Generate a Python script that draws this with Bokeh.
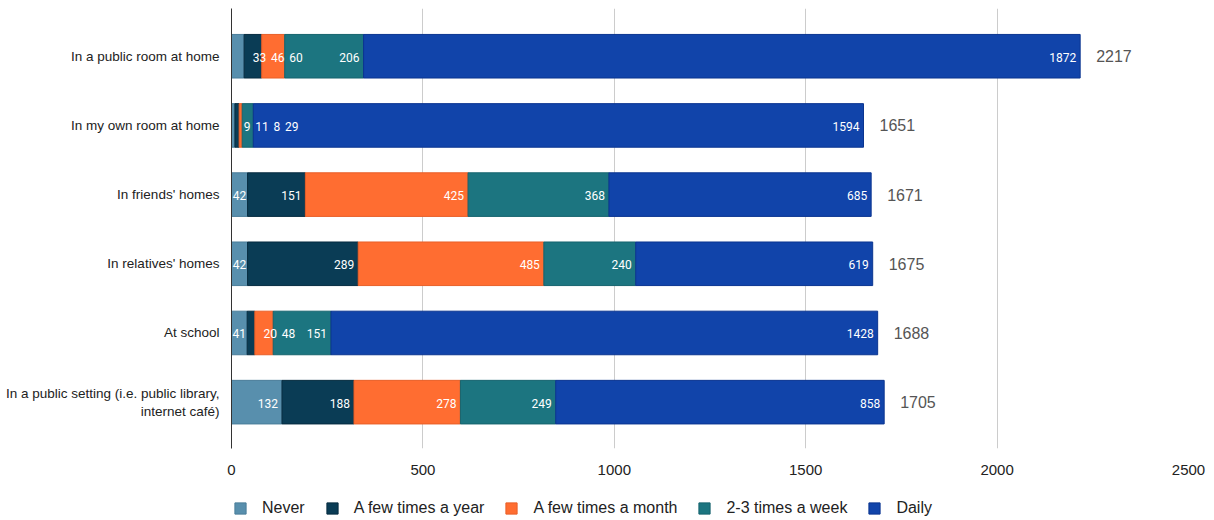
from bokeh.plotting import figure
from bokeh.layouts import column
from bokeh.models import ColumnDataSource, Range1d, FixedTicker, Legend, LegendItem
from bokeh.core.properties import value
from bokeh.embed import file_html
from bokeh.resources import INLINE

categories = [
    "In a public room at home",
    "In my own room at home",
    "In friends' homes",
    "In relatives' homes",
    "At school",
    "In a public setting (i.e. public library,\ninternet café)",
]
series_names = ["Never", "A few times a year", "A few times a month", "2-3 times a week", "Daily"]
never = [33, 9, 42, 42, 41, 132]
few_year = [46, 11, 151, 289, 20, 188]
few_month = [60, 8, 425, 485, 48, 278]
week = [206, 29, 368, 240, 151, 249]
daily = [1872, 1594, 685, 619, 1428, 858]
totals = [2217, 1651, 1671, 1675, 1688, 1705]
x_ticks = [0, 500, 1000, 1500, 2000, 2500]

colors = ["#588fad", "#0a3c55", "#ff6d31", "#1c7580", "#1144aa"]
edges = ["#4a7d99", "#062c40", "#e85f28", "#16646e", "#0b3590"]

W, H = 1214, 480
LEFT, RIGHT, TOP, BOTTOM = 231, 26, 8, 32
XMAX = x_ticks[-1]
frame_w = W - LEFT - RIGHT
PX = frame_w / XMAX  # pixels per data unit

p = figure(width=W, height=H, output_backend="svg", toolbar_location=None,
           x_range=Range1d(0, XMAX), y_range=Range1d(5.67, -0.69),
           min_border_left=LEFT, min_border_right=RIGHT,
           min_border_top=TOP, min_border_bottom=BOTTOM)
p.outline_line_color = None
p.background_fill_color = "white"
p.border_fill_color = "white"

series = [never, few_year, few_month, week, daily]
ys = list(range(len(categories)))
renderers = []
starts = [0] * len(categories)
lab_x, lab_y, lab_t = [], [], []
seg_bounds = []
for vals, c, e in zip(series, colors, edges):
    lefts = starts[:]
    rights = [s + v for s, v in zip(starts, vals)]
    src = ColumnDataSource(dict(y=ys, left=lefts, right=rights))
    r = p.hbar(y="y", left="left", right="right", height=0.63, source=src,
               fill_color=c, line_color=e, line_width=1)
    renderers.append(r)
    seg_bounds.append((lefts, rights, vals))
    starts = rights

# label layout (in pixels, derived from data)
DIGIT_W = 6.6
for i in ys:
    prev_right = -1e9
    for lefts, rights, vals in seg_bounds:
        s = str(vals[i])
        w = DIGIT_W * len(s)
        sl, sr = lefts[i] * PX, rights[i] * PX
        if sr - sl >= w + 1:
            pad = min(4.0, (sr - sl - w) / 2)
            desired_left = sr - pad - w
        else:
            desired_left = sr + 9
        left = max(desired_left, prev_right + 5)
        right = left + w
        prev_right = right
        lab_x.append(right / PX)
        lab_y.append(i)
        lab_t.append(s)

p.text(x=lab_x, y=lab_y, text=lab_t, text_align="right", text_baseline="middle",
       text_color="white", text_font=value("Roboto"), text_font_size="12px", y_offset=1)

p.text(x=totals, y=ys, text=[str(t) for t in totals], x_offset=16,
       text_align="left", text_baseline="middle", text_color="#555555",
       text_font=value("Liberation Sans"), text_font_size="16px")

# axes
p.xaxis.ticker = FixedTicker(ticks=x_ticks)
p.xaxis.axis_line_color = None
p.xaxis.major_tick_line_color = None
p.xaxis.minor_tick_line_color = None
p.xaxis.major_label_standoff = 10
p.xaxis.major_label_text_font = "Liberation Sans"
p.xaxis.major_label_text_font_size = "15px"
p.xaxis.major_label_text_color = "#222222"

p.yaxis.ticker = FixedTicker(ticks=ys)
p.yaxis.major_label_overrides = {i: c for i, c in enumerate(categories)}
p.yaxis.axis_line_color = "#333333"
p.yaxis.axis_line_width = 1
p.yaxis.major_tick_line_color = None
p.yaxis.minor_tick_line_color = None
p.yaxis.major_label_standoff = 6
p.yaxis.major_label_text_font = "Liberation Sans"
p.yaxis.major_label_text_font_size = "13.5px"
p.yaxis.major_label_text_color = "#222222"

p.xgrid.grid_line_color = "#cccccc"
p.xgrid.ticker = FixedTicker(ticks=x_ticks)
p.ygrid.grid_line_color = None

# legend strip below the chart
lg = figure(width=W, height=40, output_backend="svg", toolbar_location=None,
            x_range=Range1d(0, 1), y_range=Range1d(0, 1),
            min_border=0, min_border_left=0, min_border_right=0,
            min_border_top=0, min_border_bottom=0)
lg.axis.visible = False
lg.grid.visible = False
lg.outline_line_color = None
lg.background_fill_color = "white"
lg.border_fill_color = "white"
nan = float("nan")
dummies = []
for c, e in zip(colors, edges):
    dummies.append(lg.hbar(y=[nan], left=[nan], right=[nan], height=1, fill_color=c, line_color=e))
legend = Legend(items=[LegendItem(label=n, renderers=[r]) for n, r in zip(series_names, dummies)],
                orientation="horizontal", location=(2, 3),
                glyph_width=14, glyph_height=14, label_standoff=15, spacing=20,
                padding=0, margin=0, border_line_color=None, background_fill_alpha=0,
                label_text_font="Liberation Sans", label_text_font_size="16px",
                label_text_color="#222222")
lg.add_layout(legend, "center")

layout = column(p, lg, spacing=0)
open("out.html", "w").write(file_html(layout, INLINE))
